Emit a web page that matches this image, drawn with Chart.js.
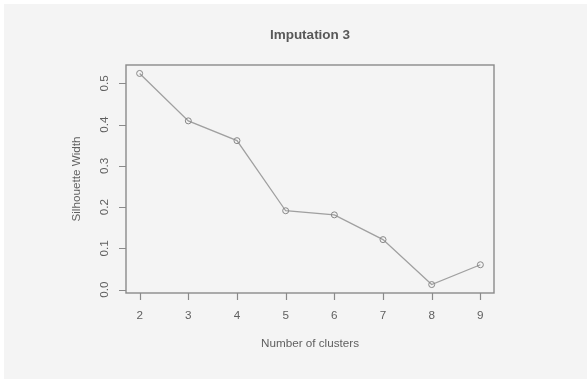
<!DOCTYPE html>
<html>
<head>
<meta charset="utf-8">
<script src="https://cdn.jsdelivr.net/npm/chart.js@4/dist/chart.umd.min.js"></script>
<style>
  html, body { margin: 0; padding: 0; background: #ffffff; }
  #wrap { width: 587px; height: 379px; }
</style>
</head>
<body>
<div id="wrap"><canvas id="c" width="587" height="379"></canvas></div>
<script>
// Silhouette width by number of clusters
const clusters = [2, 3, 4, 5, 6, 7, 8, 9];
const silhouette = [0.524, 0.409, 0.361, 0.191, 0.181, 0.121, 0.012, 0.060];
const xTicks = [2, 3, 4, 5, 6, 7, 8, 9];
const yTicks = [0.0, 0.1, 0.2, 0.3, 0.4, 0.5];
const chartTitle = 'Imputation 3';
const xTitle = 'Number of clusters';
const yTitle = 'Silhouette Width';

const FONT = '"Liberation Sans", Arial, Helvetica, sans-serif';
const TEXT = '#5f5f5f';
const FRAME = '#8a8a8a';

// pad the data range by 4% each side, like a base-graphics plot
function padded(vals) {
  const lo = Math.min(...vals), hi = Math.max(...vals);
  const d = (hi - lo) * 0.04;
  return [lo - d, hi + d];
}
const [xMin, xMax] = padded(clusters);
const [yMin, yMax] = padded(silhouette);

const backdrop = {
  id: 'backdrop',
  beforeDraw(chart) {
    const ctx = chart.ctx;
    ctx.save();
    ctx.fillStyle = '#ffffff';
    ctx.fillRect(0, 0, chart.width, chart.height);
    ctx.fillStyle = '#f4f4f4';
    ctx.fillRect(4, 4, chart.width - 4, chart.height - 4);
    ctx.restore();
  }
};

const frameAndAxes = {
  id: 'frameAndAxes',
  afterDraw(chart) {
    const { ctx, chartArea: a, scales } = chart;
    const xs = scales.x, ys = scales.y;
    ctx.save();
    // plot frame
    ctx.strokeStyle = FRAME;
    ctx.lineWidth = 1.4;
    ctx.strokeRect(a.left, a.top, a.right - a.left, a.bottom - a.top);

    // tick marks
    ctx.lineWidth = 1.2;
    ctx.beginPath();
    xTicks.forEach(v => {
      const px = Math.round(xs.getPixelForValue(v)) + 0.5;
      ctx.moveTo(px, a.bottom);
      ctx.lineTo(px, a.bottom + 7);
    });
    yTicks.forEach(v => {
      const py = Math.round(ys.getPixelForValue(v)) + 0.5;
      ctx.moveTo(a.left, py);
      ctx.lineTo(a.left - 7, py);
    });
    ctx.stroke();

    // tick labels
    ctx.fillStyle = TEXT;
    ctx.font = '11.7px ' + FONT;
    ctx.textAlign = 'center';
    ctx.textBaseline = 'middle';
    xTicks.forEach(v => {
      ctx.fillText(String(v), xs.getPixelForValue(v), a.bottom + 23);
    });
    yTicks.forEach(v => {
      ctx.save();
      ctx.translate(a.left - 21, ys.getPixelForValue(v));
      ctx.rotate(-Math.PI / 2);
      ctx.fillText(v.toFixed(1), 0, 0);
      ctx.restore();
    });

    // axis titles
    const cx = (a.left + a.right) / 2;
    const cy = (a.top + a.bottom) / 2;
    ctx.fillText(xTitle, cx, a.bottom + 51);
    ctx.save();
    ctx.translate(a.left - 49, cy);
    ctx.rotate(-Math.PI / 2);
    ctx.fillText(yTitle, 0, 0);
    ctx.restore();

    // main title
    ctx.font = 'bold 13.5px ' + FONT;
    ctx.fillStyle = '#585858';
    ctx.fillText(chartTitle, cx, a.top - 30);
    ctx.restore();
  }
};

new Chart(document.getElementById('c'), {
  type: 'line',
  data: {
    datasets: [{
      data: clusters.map((c, i) => ({ x: c, y: silhouette[i] })),
      borderColor: '#a0a0a0',
      borderWidth: 1.3,
      pointRadius: 3,
      pointBorderWidth: 1,
      pointBorderColor: '#888888',
      pointBackgroundColor: 'rgba(0,0,0,0)',
      tension: 0,
      fill: false
    }]
  },
  options: {
    responsive: false,
    animation: false,
    devicePixelRatio: 1,
    layout: { padding: { left: 126, top: 65, right: 93, bottom: 86 } },
    plugins: {
      legend: { display: false },
      title: { display: false },
      tooltip: { enabled: false }
    },
    scales: {
      x: { type: 'linear', min: xMin, max: xMax, display: false },
      y: { type: 'linear', min: yMin, max: yMax, display: false }
    }
  },
  plugins: [backdrop, frameAndAxes]
});
</script>
</body>
</html>
